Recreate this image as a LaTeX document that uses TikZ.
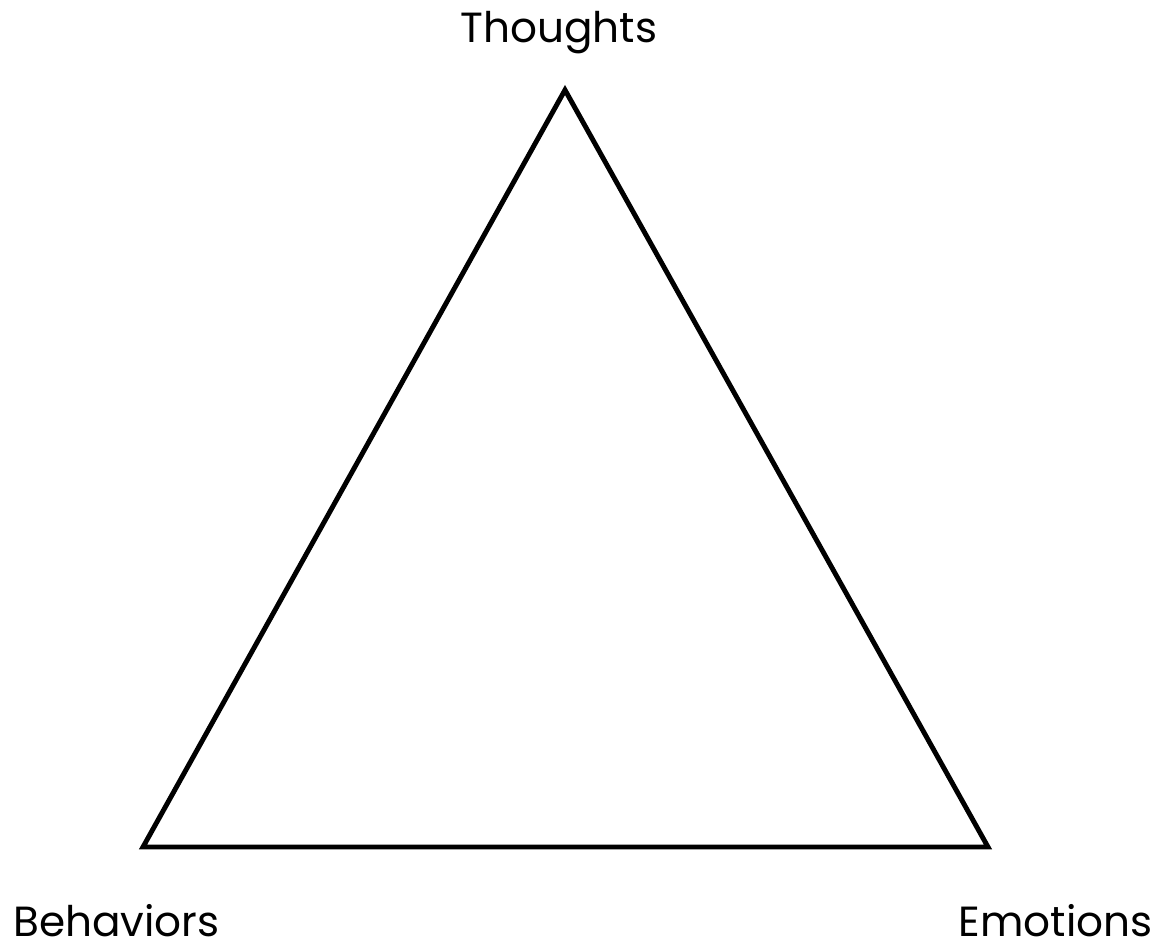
\documentclass[tikz,border=0pt]{standalone}
\usepackage{fontspec}
\setmainfont{Poppins}
\begin{document}
\begin{tikzpicture}[x=0.02cm, y=-0.02cm]
    \useasboundingbox (0,0) rectangle (1164,945);
    \tikzset{corner label/.style={inner sep=0pt, font=\fontsize{24}{28}\selectfont}}

    % Triangle vertices
    \coordinate (T) at (565,90);
    \coordinate (B) at (143,847);
    \coordinate (E) at (988,847);
    \draw[line width=2.8pt] (T) -- (E) -- (B) -- cycle;

    % Labels
    \node (thoughts) at (559,43) [corner label, anchor=base] {Thoughts};
    \node (behaviors) at (13,936) [corner label, anchor=base west] {Behaviors};
    \node (emotions) at (1153,936) [corner label, anchor=base east] {Emotions};
\end{tikzpicture}
\end{document}
